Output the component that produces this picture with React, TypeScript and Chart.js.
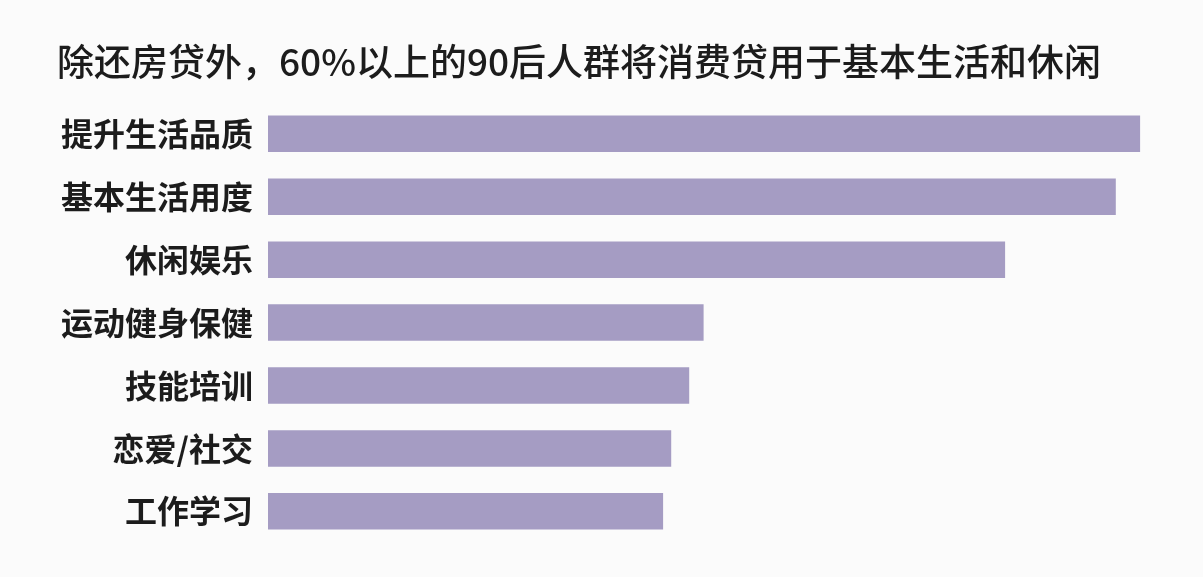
import React, { useEffect, useRef } from "react";
import Chart from "chart.js/auto";

const title = "除还房贷外，60%以上的90后人群将消费贷用于基本生活和休闲";
const categories = ["提升生活品质", "基本生活用度", "休闲娱乐", "运动健身保健", "技能培训", "恋爱/社交", "工作学习"];
// 读图估计的占比（%）
const shares = [96.9, 94.2, 81.9, 48.4, 46.8, 44.8, 43.9];
const axisMax = 100;

const FONT = '"Noto Sans CJK SC", "Noto Sans", sans-serif';

export default function App() {
  const chartRef = useRef<HTMLCanvasElement>(null);
  const chartInstance = useRef<Chart | null>(null);

  useEffect(() => {
    if (!chartRef.current) return;
    if (chartInstance.current) chartInstance.current.destroy();

    const ctx = chartRef.current.getContext("2d");
    if (!ctx) return;

    chartInstance.current = new Chart(ctx, {
      type: "bar",
      data: {
        labels: categories,
        datasets: [
          {
            label: "占比",
            data: shares,
            backgroundColor: "#a59cc3",
            borderWidth: 0,
            barPercentage: 0.58,
            categoryPercentage: 1,
          },
        ],
      },
      options: {
        indexAxis: "y",
        animation: false,
        responsive: false,
        layout: { padding: { left: 57, right: 35, top: 0, bottom: 29 } },
        plugins: {
          legend: { display: false },
          tooltip: { enabled: false },
          title: {
            display: true,
            text: title,
            align: "start",
            color: "#1c1c1c",
            font: { family: FONT, size: 37, weight: "500" },
            padding: { top: 40, bottom: 18 },
          },
        },
        scales: {
          x: {
            display: false,
            min: 0,
            max: axisMax,
          },
          y: {
            grid: { display: false, drawTicks: false },
            border: { display: false },
            afterFit: (scale: any) => {
              scale.width = 211;
            },
            ticks: {
              color: "#1c1c1c",
              padding: 15,
              font: { family: FONT, size: 32, weight: "bold" },
            },
          },
        },
      },
    });

    return () => {
      if (chartInstance.current) {
        chartInstance.current.destroy();
        chartInstance.current = null;
      }
    };
  }, []);

  return (
    <div
      style={{
        position: "absolute",
        left: 0,
        top: 0,
        width: 1203,
        height: 577,
        background: "#fbfbfb",
      }}
    >
      <canvas ref={chartRef} width={1203} height={577} style={{ display: "block" }}></canvas>
    </div>
  );
}
